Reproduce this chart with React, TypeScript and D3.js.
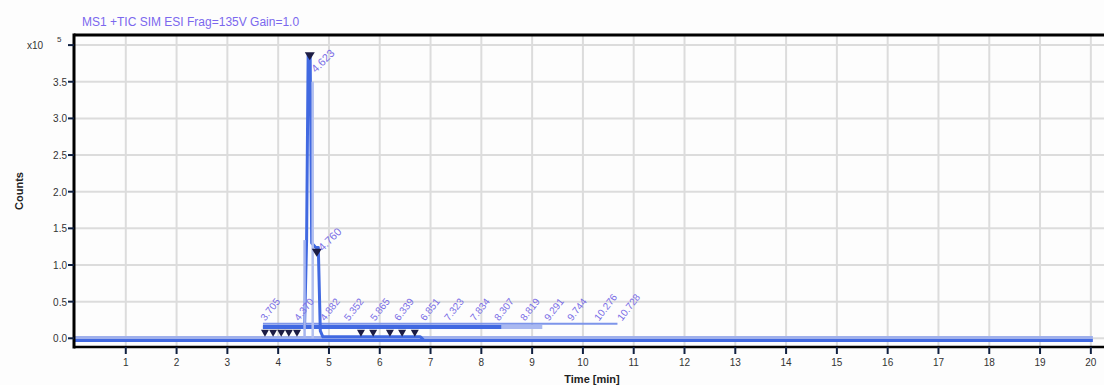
import React from "react";
import * as d3 from "d3";

// ---------- data ----------
const xTicks = [1, 2, 3, 4, 5, 6, 7, 8, 9, 10, 11, 12, 13, 14, 15, 16, 17, 18, 19, 20];
const yTicks = [0, 0.5, 1.0, 1.5, 2.0, 2.5, 3.0, 3.5];
const yTickLabels = ["0.0", "0.5", "1.0", "1.5", "2.0", "2.5", "3.0", "3.5"];
const yTopTick = 4.0;

// baseline traces (x10^5 counts)
const baseTimes = [0, 20.04];
const baseValues = [-0.03, -0.03];
const baseLightValues = [0.01, 0.01];

// main peak trace
const peakTimes = [3.7, 4.45, 4.52, 4.56, 4.59, 4.63, 4.66, 4.7, 4.74, 4.79, 4.83, 4.88, 6.8, 6.86];
const peakValues = [0.15, 0.15, 0.16, 1.34, 3.86, 3.86, 1.3, 1.27, 1.24, 1.24, 0.1, 0.02, 0.02, -0.02];

// long low plateaus
const plateauTimes = [3.7, 8.4, 9.2];
const plateauValues = [0.155, 0.155, 0.155];
const plateau2Times = [3.7, 10.68];
const plateau2Values = [0.2, 0.2];

// apex labels
const apexTimes = [4.623, 4.76];
const apexValues = [3.86, 1.18];
const apexLabels = ["4.623", "4.760"];

// row peak markers
const markerTimes = [3.74, 3.9, 4.06, 4.21, 4.37, 5.63, 5.87, 6.2, 6.44, 6.69];
const markerValues = [0.07, 0.07, 0.07, 0.07, 0.07, 0.07, 0.07, 0.07, 0.07, 0.07];

// row labels (retention times)
const rowLabelTimes = [3.705, 4.37, 4.882, 5.352, 5.865, 6.339, 6.851, 7.323, 7.834, 8.307, 8.819, 9.291, 9.744, 10.276, 10.728];
const rowLabelValue = 0.23;

const title = "MS1 +TIC SIM ESI Frag=135V Gain=1.0";

export default function App() {
  const W = 1104, H = 385;
  const x = d3.scaleLinear().domain([0, 20.2]).range([75, 1101]);
  const y = d3.scaleLinear().domain([0, 4]).range([338.3, 45.1]);
  const left = 74, top = 35, bottom = 347, right = 1104;

  const line = (ts: number[], vs: number[]) =>
    d3.line<number>().x((_, i) => x(ts[i])).y((_, i) => y(vs[i]))(ts as any) || "";

  const tri = (cx: number, cy: number, w: number, h: number) =>
    `M${cx - w / 2},${cy - h / 2}L${cx + w / 2},${cy - h / 2}L${cx},${cy + h / 2}Z`;

  const font = "Liberation Sans, Arial, sans-serif";
  const blue = "#4169e1";
  const labelColor = "#7a6ee6";

  return (
    <svg width={W} height={H} style={{ position: "absolute", left: 0, top: 0, background: "#fdfdfd" }} fontFamily={font}>
      {/* gridlines */}
      {xTicks.map((t) => (
        <line key={"gx" + t} x1={x(t)} x2={x(t)} y1={top} y2={bottom} stroke="#dcdcdc" strokeWidth={2} />
      ))}
      {[...yTicks, yTopTick].map((t) => (
        <line key={"gy" + t} x1={left} x2={right} y1={y(t)} y2={y(t)} stroke="#dcdcdc" strokeWidth={2} />
      ))}

      {/* traces */}
      <path d={line(baseTimes, baseLightValues)} fill="none" stroke="#9fb0ec" strokeWidth={3} />
      <path d={line(baseTimes, baseValues)} fill="none" stroke={blue} strokeWidth={3} />
      <path d={line(plateau2Times, plateau2Values)} fill="none" stroke="#7d95ea" strokeWidth={2} />
      <path d={line(plateauTimes.slice(0, 2), plateauValues.slice(0, 2))} fill="none" stroke={blue} strokeWidth={4} />
      <path d={line(plateauTimes.slice(1), plateauValues.slice(1))} fill="none" stroke="#a9b8f0" strokeWidth={4} />
      <path d={line(peakTimes, peakValues)} fill="none" stroke={blue} strokeWidth={3} strokeLinejoin="round" />
      <path d={line([4.52, 4.52], [1.34, 0.0])} fill="none" stroke="#a6b5ee" strokeWidth={2.5} />
      <path d={line([4.68, 4.68], [3.5, 0.0])} fill="none" stroke="#b3c0f0" strokeWidth={2.5} />

      {/* markers */}
      {markerTimes.map((t, i) => (
        <path key={"m" + i} d={tri(x(t), y(markerValues[i]), 8, 7)} fill="#1c1c44" />
      ))}
      {apexTimes.map((t, i) => (
        <path key={"am" + i} d={tri(x(t), y(apexValues[i]) + 1, 10, 8)} fill="#1c1c44" />
      ))}

      {/* apex labels */}
      {apexTimes.map((t, i) => (
        <text key={"al" + i} transform={`translate(${x(t) + 6},${y(apexValues[i]) + (i === 0 ? 18 : 0)}) rotate(-45)`}
          fontSize={11} fill={labelColor}>{apexLabels[i]}</text>
      ))}
      {/* row labels */}
      {rowLabelTimes.map((t, i) => (
        <text key={"rl" + i} transform={`translate(${x(t) + 2},${y(rowLabelValue)}) rotate(-52)`}
          fontSize={10} fill={labelColor}>{t.toFixed(3)}</text>
      ))}

      {/* frame */}
      <line x1={left} x2={right} y1={top} y2={top} stroke="#000" strokeWidth={3} />
      <line x1={left} x2={left} y1={top - 1.5} y2={bottom + 1.5} stroke="#000" strokeWidth={3} />
      <line x1={left} x2={right} y1={bottom} y2={bottom} stroke="#000" strokeWidth={2.5} />

      {/* y ticks */}
      {[...yTicks, yTopTick].map((t) => (
        <line key={"ty" + t} x1={left - 6} x2={left} y1={y(t)} y2={y(t)} stroke="#102040" strokeWidth={2} />
      ))}
      {yTicks.map((t, i) => (
        <text key={"tyl" + t} x={left - 7} y={y(t) + 4} fontSize={10} textAnchor="end" fill="#333">{yTickLabels[i]}</text>
      ))}
      <text x={27} y={y(yTopTick) + 4} fontSize={10} fill="#333">x10</text>
      <text x={57} y={y(yTopTick) - 3} fontSize={8} fill="#333">5</text>

      {/* x ticks */}
      {xTicks.map((t) => (
        <line key={"tx" + t} x1={x(t)} x2={x(t)} y1={bottom} y2={bottom + 7} stroke="#102040" strokeWidth={2} />
      ))}
      {xTicks.map((t) => (
        <text key={"txl" + t} x={x(t)} y={366} fontSize={10} textAnchor="middle" fill="#333">{String(t)}</text>
      ))}

      {/* axis titles */}
      <text transform="translate(23,191) rotate(-90)" fontSize={11} fontWeight="bold" textAnchor="middle" fill="#222">Counts</text>
      <text x={592} y={383} fontSize={11} fontWeight="bold" textAnchor="middle" fill="#222">Time [min]</text>

      {/* title */}
      <text x={82} y={26} fontSize={12} fill="#7b68ee">{title}</text>
    </svg>
  );
}
